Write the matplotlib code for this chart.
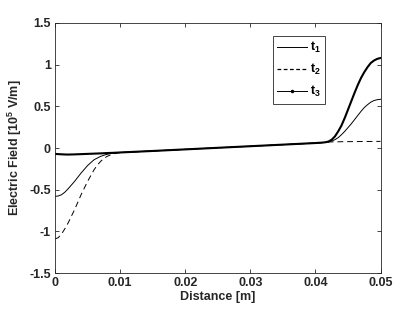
import numpy as np
import matplotlib
matplotlib.use('Agg')
import matplotlib.pyplot as plt
from matplotlib.lines import Line2D

plt.rcParams['font.family'] = 'Liberation Sans'
plt.rcParams['font.weight'] = 'bold'
plt.rcParams['axes.labelweight'] = 'bold'
plt.rcParams['mathtext.fontset'] = 'custom'
plt.rcParams['mathtext.rm'] = 'Liberation Sans:bold'
plt.rcParams['mathtext.it'] = 'Liberation Sans:bold'
plt.rcParams['mathtext.bf'] = 'Liberation Sans:bold'
plt.rcParams['axes.unicode_minus'] = False

# Distanz [m]
x = [0, 0.0005, 0.001, 0.0015, 0.002, 0.0025, 0.003, 0.0035, 0.004, 0.0045, 0.005,
     0.0055, 0.006, 0.0065, 0.007, 0.0075, 0.008, 0.0085, 0.009, 0.0095, 0.010,
     0.015, 0.020, 0.025, 0.030, 0.035, 0.040,
     0.041, 0.0415, 0.042, 0.0425, 0.043, 0.0435, 0.044, 0.0445, 0.045, 0.0455,
     0.046, 0.0465, 0.047, 0.0475, 0.048, 0.0485, 0.049, 0.0495, 0.050]

t1 = [-0.58, -0.575, -0.56, -0.53, -0.49, -0.445, -0.40, -0.35, -0.30, -0.255, -0.21,
      -0.175, -0.14, -0.12, -0.10, -0.086, -0.075, -0.067, -0.06, -0.056, -0.053,
      -0.035, -0.016, 0.003, 0.022, 0.041, 0.060,
      0.065, 0.068, 0.074, 0.085, 0.10, 0.125, 0.16, 0.20, 0.245, 0.29,
      0.34, 0.39, 0.44, 0.485, 0.52, 0.55, 0.57, 0.58, 0.585]
t2 = [-1.09, -1.075, -1.03, -0.97, -0.90, -0.82, -0.74, -0.65, -0.56, -0.48, -0.40,
      -0.33, -0.26, -0.205, -0.16, -0.125, -0.10, -0.083, -0.07, -0.061, -0.055,
      -0.035, -0.016, 0.003, 0.022, 0.041, 0.060,
      0.065, 0.069, 0.072, 0.074, 0.075, 0.075, 0.076, 0.076, 0.077, 0.077,
      0.078, 0.078, 0.078, 0.079, 0.079, 0.079, 0.08, 0.08, 0.08]
t3 = [-0.070, -0.073, -0.075, -0.077, -0.078, -0.077, -0.076, -0.0745, -0.073, -0.0715, -0.070,
      -0.0685, -0.067, -0.0655, -0.064, -0.062, -0.060, -0.0585, -0.057, -0.055, -0.053,
      -0.035, -0.016, 0.003, 0.022, 0.041, 0.060,
      0.065, 0.069, 0.078, 0.10, 0.14, 0.20, 0.27, 0.36, 0.46, 0.56,
      0.66, 0.755, 0.84, 0.91, 0.97, 1.02, 1.05, 1.07, 1.08]

xticks = [0, 0.01, 0.02, 0.03, 0.04, 0.05]
yticks = [-1.5, -1, -0.5, 0, 0.5, 1, 1.5]
ytick_labels = ['-1.5', '-1', '-0.5', '0', '0.5', '1', '1.5']

grau = '#262626'

fig = plt.figure(figsize=(4.2, 3.15), dpi=100)
ax = fig.add_axes([0.131, 0.133, 0.775, 0.794])

ax.plot(x, t1, '-', color='k', lw=0.7)
ax.plot(x, t2, '--', color='k', lw=0.7, dashes=(6, 4))
ax.plot(x, t3, '-', color='k', lw=1.5)

ax.set_xlim(0, 0.05)
ax.set_ylim(-1.5, 1.5)
ax.set_xticks(xticks)
ax.set_xticklabels([str(v) for v in xticks])
ax.set_yticks(yticks)
ax.set_yticklabels(ytick_labels)
ax.tick_params(direction='in', top=True, right=True, length=3, width=0.6,
               labelsize=9, colors=grau, pad=3)
for s in ax.spines.values():
    s.set_color(grau)
    s.set_linewidth(0.6)

ax.set_xlabel('Distance [m]', fontsize=9, color=grau, labelpad=1)
ax.set_ylabel(r'Electric Field [10$^5$ V/m]', fontsize=9, color=grau, labelpad=4)

handles = [Line2D([], [], color='k', lw=0.7),
           Line2D([], [], color='k', lw=0.9, ls='--', dashes=(3, 2)),
           Line2D([], [], color='k', lw=0.7, marker='.', markersize=3)]
leg = ax.legend(handles, [r'$\mathrm{t}_1$', r'$\mathrm{t}_2$', r'$\mathrm{t}_3$'],
                loc='upper right', bbox_to_anchor=(0.829, 0.948), fontsize=9,
                fancybox=False, framealpha=1, edgecolor=grau, handlelength=2.4,
                handletextpad=0.2, borderpad=0.35, labelspacing=0.55,
                borderaxespad=0, markerscale=1)
leg.get_frame().set_linewidth(0.6)

plt.savefig('out.png', dpi=100)
